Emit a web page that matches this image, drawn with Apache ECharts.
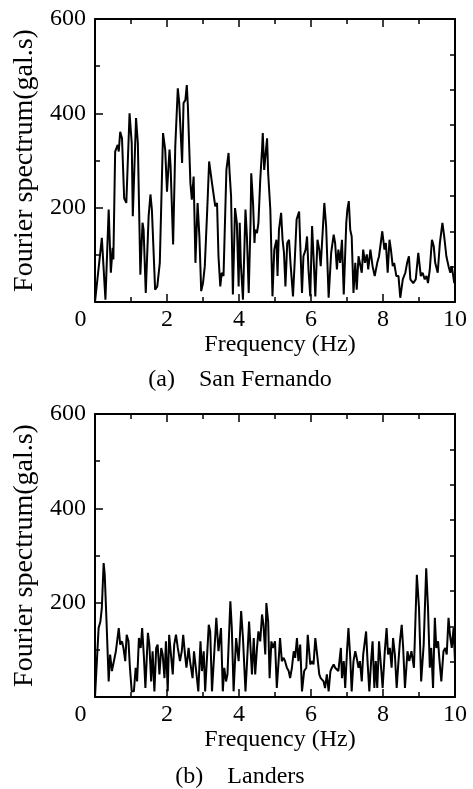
<!DOCTYPE html>
<html>
<head>
<meta charset="utf-8">
<script src="https://cdn.jsdelivr.net/npm/echarts@6/dist/echarts.min.js"></script>
<style>
  html, body { margin: 0; padding: 0; background: #fff; }
  #chart { width: 473px; height: 789px; }
</style>
</head>
<body>
<div id="chart"></div>
<script>
// (a) San Fernando
var freqA = [0, 0.19, 0.29, 0.38, 0.44, 0.49, 0.51, 0.56, 0.63, 0.66, 0.70, 0.75, 0.81, 0.87, 0.96, 1.02, 1.05, 1.14, 1.19, 1.26,
  1.32, 1.35, 1.41, 1.49, 1.54, 1.58, 1.67, 1.73, 1.80, 1.89, 1.95, 2.00, 2.07, 2.10, 2.17, 2.23, 2.30, 2.34, 2.42, 2.46,
  2.51, 2.55, 2.58, 2.65, 2.69, 2.74, 2.79, 2.85, 2.90, 2.95, 3.00, 3.05, 3.12, 3.17, 3.25, 3.30, 3.34, 3.39, 3.43, 3.48,
  3.52, 3.57, 3.65, 3.71, 3.74, 3.78, 3.83, 3.89, 3.94, 3.99, 4.02, 4.05, 4.11, 4.18, 4.22, 4.27, 4.32, 4.34, 4.39, 4.43,
  4.45, 4.50, 4.54, 4.59, 4.64, 4.66, 4.70, 4.75, 4.78, 4.81, 4.87, 4.93, 4.98, 5.04, 5.07, 5.11, 5.17, 5.21, 5.25, 5.29,
  5.34, 5.39, 5.43, 5.50, 5.55, 5.60, 5.67, 5.70, 5.75, 5.79, 5.85, 5.89, 5.93, 5.98, 6.03, 6.07, 6.12, 6.18, 6.23, 6.27,
  6.37, 6.42, 6.49, 6.56, 6.63, 6.67, 6.72, 6.76, 6.81, 6.86, 6.91, 6.98, 7.01, 7.05, 7.09, 7.13, 7.18, 7.23, 7.27, 7.32,
  7.36, 7.41, 7.45, 7.50, 7.55, 7.59, 7.65, 7.71, 7.77, 7.84, 7.89, 7.98, 8.04, 8.08, 8.13, 8.18, 8.22, 8.27, 8.31, 8.37,
  8.43, 8.48, 8.55, 8.62, 8.67, 8.72, 8.76, 8.84, 8.91, 8.98, 9.05, 9.10, 9.16, 9.21, 9.25, 9.30, 9.36, 9.41, 9.45, 9.52,
  9.58, 9.65, 9.70, 9.76, 9.82, 9.87, 9.91, 9.98, 10.0]
var ampA = [0, 136, 5, 196, 62, 115, 90, 319, 333, 319, 361, 347, 220, 210, 400, 337, 182, 390, 337, 58,
  168, 153, 19, 182, 228, 196, 26, 33, 83, 358, 323, 234, 323, 287, 122, 330, 453, 422, 295, 422,
  428, 460, 415, 252, 217, 266, 83, 210, 139, 23, 40, 76, 200, 298, 252, 256, 203, 210, 97, 33,
  62, 55, 280, 316, 273, 224, 16, 199, 168, 33, 168, 83, 5, 196, 139, 19, 168, 273, 210, 125,
  153, 146, 168, 259, 323, 358, 280, 323, 347, 273, 196, 12, 111, 132, 55, 153, 189, 132, 104, 33,
  125, 132, 83, 12, 90, 175, 192, 125, 19, 97, 111, 139, 69, 12, 161, 97, 12, 132, 111, 76,
  210, 161, 9, 104, 143, 125, 69, 111, 83, 132, 16, 168, 196, 214, 153, 139, 19, 83, 26, 97,
  93, 62, 111, 83, 101, 69, 111, 76, 55, 83, 97, 150, 111, 125, 62, 132, 111, 76, 83, 55,
  55, 9, 48, 62, 83, 97, 48, 40, 48, 104, 55, 62, 48, 55, 40, 69, 132, 118, 83, 62,
  125, 168, 139, 97, 76, 62, 76, 40, 55]

// (b) Landers
var freqB = [0, 0.10, 0.15, 0.19, 0.24, 0.27, 0.32, 0.38, 0.42, 0.47, 0.51, 0.58, 0.66, 0.70, 0.75, 0.79, 0.84, 0.88, 0.93, 0.97,
  1.02, 1.08, 1.13, 1.17, 1.22, 1.27, 1.31, 1.36, 1.40, 1.47, 1.51, 1.56, 1.60, 1.65, 1.70, 1.74, 1.79, 1.84, 1.88, 1.93,
  1.97, 2.02, 2.06, 2.11, 2.16, 2.20, 2.25, 2.30, 2.36, 2.41, 2.45, 2.50, 2.54, 2.60, 2.64, 2.71, 2.75, 2.80, 2.87, 2.93,
  2.97, 3.02, 3.06, 3.16, 3.20, 3.25, 3.31, 3.37, 3.43, 3.50, 3.55, 3.59, 3.64, 3.68, 3.76, 3.80, 3.85, 3.92, 3.99, 4.06,
  4.11, 4.18, 4.22, 4.28, 4.31, 4.36, 4.41, 4.45, 4.50, 4.54, 4.59, 4.64, 4.68, 4.73, 4.76, 4.81, 4.85, 4.90, 4.94, 5.00,
  5.05, 5.10, 5.14, 5.19, 5.24, 5.28, 5.33, 5.38, 5.42, 5.47, 5.52, 5.56, 5.61, 5.65, 5.70, 5.75, 5.81, 5.87, 5.91, 5.98,
  6.03, 6.07, 6.12, 6.16, 6.23, 6.27, 6.35, 6.39, 6.44, 6.49, 6.54, 6.58, 6.63, 6.67, 6.72, 6.76, 6.83, 6.86, 6.91, 6.95,
  7.00, 7.04, 7.09, 7.13, 7.18, 7.23, 7.27, 7.32, 7.36, 7.41, 7.45, 7.53, 7.57, 7.62, 7.67, 7.71, 7.76, 7.80, 7.84, 7.89,
  7.94, 7.99, 8.05, 8.10, 8.14, 8.19, 8.24, 8.28, 8.33, 8.38, 8.43, 8.47, 8.52, 8.56, 8.61, 8.68, 8.73, 8.79, 8.86, 8.94,
  9.00, 9.06, 9.13, 9.20, 9.25, 9.30, 9.34, 9.39, 9.44, 9.48, 9.53, 9.57, 9.62, 9.68, 9.73, 9.77, 9.82, 9.86, 9.91, 9.96, 10.0]
var ampB = [0, 146, 160, 189, 284, 260, 160, 33, 90, 55, 55, 97, 146, 111, 118, 104, 76, 132, 118, 62,
  12, 12, 62, 33, 125, 104, 146, 83, 19, 136, 111, 33, 97, 12, 104, 111, 48, 104, 90, 40,
  118, 12, 132, 90, 48, 111, 132, 104, 76, 97, 132, 90, 62, 104, 76, 40, 97, 62, 12, 118,
  55, 97, 12, 153, 139, 12, 90, 168, 97, 146, 12, 62, 33, 48, 203, 146, 12, 125, 76, 182,
  125, 12, 69, 160, 118, 48, 125, 48, 104, 139, 118, 175, 153, 90, 199, 160, 40, 118, 104, 118,
  19, 76, 125, 76, 83, 76, 62, 55, 40, 62, 97, 83, 125, 76, 111, 12, 55, 62, 132, 69,
  76, 69, 125, 97, 48, 40, 33, 19, 48, 12, 55, 62, 69, 62, 66, 55, 104, 40, 76, 19,
  97, 146, 83, 12, 76, 97, 83, 62, 76, 33, 90, 139, 76, 12, 76, 118, 19, 76, 19, 118,
  69, 19, 97, 146, 90, 104, 62, 125, 90, 19, 76, 118, 153, 104, 19, 97, 76, 97, 62, 259,
  189, 33, 111, 273, 189, 62, 104, 19, 168, 104, 118, 76, 33, 97, 104, 90, 168, 132, 104, 146, 76]

var serif = '"Liberation Serif", "Times New Roman", serif'
var black = '#000'

function pairs(xs, ys) {
  return xs.map(function(x, i) { return [x, ys[i]] })
}

function xAxes(gi) {
  return [
    {
      gridIndex: gi, type: 'value', position: 'bottom',
      min: 0, max: 10, interval: 2,
      name: 'Frequency (Hz)', nameLocation: 'middle', nameGap: 31,
      nameTextStyle: { fontFamily: serif, fontSize: 24, color: black, padding: [0, 0, 0, 10] },
      axisLine: { onZero: false, lineStyle: { color: black, width: 2 } },
      axisTick: { inside: true, length: 8, lineStyle: { color: black, width: 1.5 } },
      minorTick: { show: true, splitNumber: 2, length: 5, lineStyle: { color: black, width: 1.5 } },
      splitLine: { show: false },
      axisLabel: {
        margin: 6, fontFamily: serif, fontSize: 24, color: black,
        formatter: function(v) { return v === 0 ? '{z|0}' : String(v) },
        rich: { z: { fontFamily: serif, fontSize: 24, color: black, padding: [0, 29, 0, 0] } }
      }
    },
    {
      gridIndex: gi, type: 'value', position: 'top',
      min: 0, max: 10, interval: 2,
      axisLine: { onZero: false, lineStyle: { color: black, width: 2 } },
      axisTick: { inside: true, length: 8, lineStyle: { color: black, width: 1.5 } },
      minorTick: { show: true, splitNumber: 2, length: 5, lineStyle: { color: black, width: 1.5 } },
      splitLine: { show: false },
      axisLabel: { show: false }
    }
  ]
}

function yAxes(gi) {
  return [
    {
      gridIndex: gi, type: 'value', position: 'left',
      min: 0, max: 600, interval: 200,
      name: 'Fourier spectrum(gal.s)', nameLocation: 'middle', nameGap: 51,
      nameTextStyle: { fontFamily: serif, fontSize: 28, color: black },
      axisLine: { onZero: false, lineStyle: { color: black, width: 2 } },
      axisTick: { inside: true, length: 8, lineStyle: { color: black, width: 1.5 } },
      minorTick: { show: true, splitNumber: 2, length: 5, lineStyle: { color: black, width: 1.5 } },
      splitLine: { show: false },
      axisLabel: {
        margin: 9, fontFamily: serif, fontSize: 24, color: black,
        formatter: function(v) { return v === 0 ? '' : String(v) }
      }
    },
    {
      gridIndex: gi, type: 'value', position: 'right',
      min: 0, max: 600, interval: 75,
      axisLine: { onZero: false, lineStyle: { color: black, width: 2 } },
      axisTick: { inside: true, length: 5, lineStyle: { color: black, width: 1.5 } },
      splitLine: { show: false },
      axisLabel: { show: false }
    }
  ]
}

function caption(text, y) {
  return {
    type: 'text', x: 240, y: y,
    style: { text: text, fontFamily: serif, fontSize: 24, fill: black, textAlign: 'center', textVerticalAlign: 'middle' }
  }
}

var chart = echarts.init(document.getElementById('chart'))
chart.setOption({
  animation: false,
  backgroundColor: '#fff',
  grid: [
    { left: 95, top: 19, width: 360, height: 283 },
    { left: 95, top: 414, width: 360, height: 283 }
  ],
  xAxis: xAxes(0).concat(xAxes(1)),
  yAxis: yAxes(0).concat(yAxes(1)),
  series: [
    {
      type: 'line', xAxisIndex: 0, yAxisIndex: 0, data: pairs(freqA, ampA),
      showSymbol: false, lineStyle: { color: black, width: 2 }
    },
    {
      type: 'line', xAxisIndex: 2, yAxisIndex: 2, data: pairs(freqB, ampB),
      showSymbol: false, lineStyle: { color: black, width: 2 }
    }
  ],
  graphic: [
    caption('(a)    San Fernando', 380),
    caption('(b)    Landers', 777)
  ]
})
</script>
</body>
</html>
